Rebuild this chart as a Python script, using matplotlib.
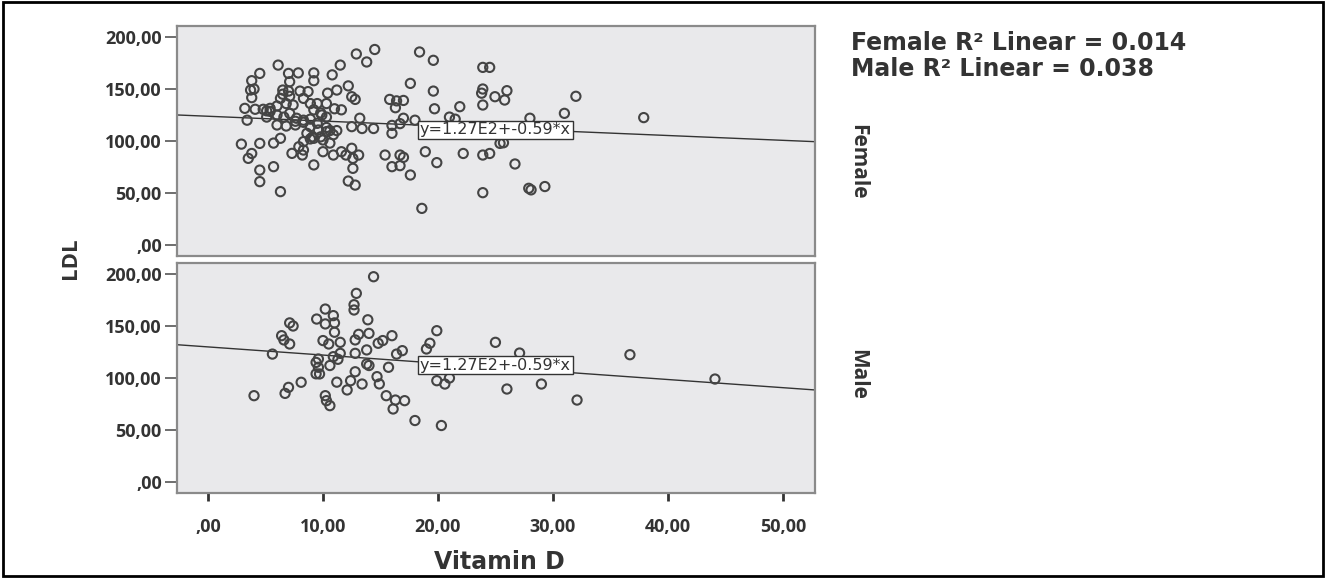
import matplotlib
matplotlib.use("Agg")
import matplotlib.pyplot as plt
from matplotlib.patches import Rectangle
import numpy as np

# ---------------- data ----------------
female_vitd = [14.5, 12.9, 13.8, 18.4, 19.6, 23.9, 11.5, 6.1, 4.5, 3.8, 7.0, 7.85, 9.2, 10.8, 9.2, 7.1,
               3.7, 4.0, 6.5, 7.0, 8.0, 8.7, 11.2, 12.2, 12.5, 12.8, 17.6, 19.6, 23.9, 15.8, 16.4, 17.0,
               16.3, 19.7, 21.9, 23.9, 3.8, 3.2, 4.1, 4.8, 5.4, 6.0, 6.8, 7.4, 6.3, 9.5, 10.3, 9.9, 11.6,
               3.4, 5.1, 6.0, 6.6, 7.1, 7.7, 8.3, 6.0, 6.8, 7.6, 8.9, 9.6, 10.3, 10.9, 13.2, 12.5, 13.4,
               14.4, 16.0, 16.7, 17.0, 18.0, 21.0, 21.5, 16.0, 8.6, 9.2, 8.3, 10.0, 10.6, 6.3, 2.9, 4.5,
               5.7, 7.9, 8.3, 7.3, 8.2, 3.8, 3.5, 10.0, 10.9, 11.6, 12.5, 12.0, 13.1, 12.6, 15.4, 16.7,
               17.0, 16.0, 16.7, 17.6, 18.9, 19.9, 22.2, 23.9, 5.7, 4.5, 4.5, 6.3, 9.2, 12.6, 12.2, 12.8,
               18.6, 23.9, 25.4, 6.5, 7.1, 8.3, 8.9, 5.4, 5.1, 9.2, 9.8, 10.3, 8.9, 9.5, 10.3, 10.6, 11.2,
               8.9, 9.8, 7.6, 8.3, 24.5, 26.0, 24.96, 25.8, 32.0, 31.0, 28.0, 37.9, 25.7, 26.7, 27.9,
               28.1, 29.3, 24.5, 23.8, 10.4, 11.0, 9.1]
female_ldl = [188, 183.7, 176, 185.6, 177.6, 170.8, 173, 173, 165, 158, 165, 165.5, 165.5, 163.6, 158, 157,
              149, 150, 149, 148, 148, 147.5, 149, 153, 142.6, 140, 155.4, 148, 150, 140, 138.6, 139,
              132, 131, 133, 134.6, 141.7, 131.4, 130.5, 130.5, 131.4, 133.7, 136, 134.6, 141, 136, 136,
              125, 130, 120, 123, 125, 123, 126.6, 121.9, 120, 115.4, 114.4, 115.4, 113.8, 110.6, 109,
              106, 121.9, 113.8, 112, 112, 115, 116.7, 121.9, 120, 123, 121, 107.4, 107.4, 102.6, 99.4,
              101, 98, 102.6, 97, 97.7, 98, 94.5, 91.3, 88.1, 86.5, 88, 83.3, 89.7, 86.5, 89.7, 93, 86.5,
              86.5, 83.3, 86.5, 86.5, 84.3, 75.3, 76.3, 67.3, 89.7, 79.2, 88, 86.5, 75.3, 72, 60.9, 51.3,
              77, 73.7, 61.5, 57.6, 35.2, 50.3, 97.7, 145, 143, 141, 136, 128.5, 129, 130, 127, 123, 121,
              117, 113, 110, 110, 102, 104, 119, 118, 170.8, 148.4, 142.6, 139.4, 143, 126.6, 121.9,
              122.5, 98.3, 77.9, 54.5, 53, 56.2, 88, 146, 146, 131, 104]

male_vitd = [14.4, 12.9, 12.7, 12.7, 13.9, 10.2, 10.9, 9.45, 10.2, 11.0, 11.0, 7.1, 7.4, 6.4, 6.6, 7.1, 5.6,
             10.0, 10.5, 11.5, 12.8, 13.1, 14.0, 13.8, 12.8, 11.5, 10.9, 9.6, 9.6, 9.7, 9.4, 10.6, 13.8,
             14.0, 14.8, 15.2, 16.0, 16.4, 16.9, 15.7, 14.7, 14.9, 19.9, 19.3, 19.0, 19.9, 20.6, 21.0,
             25.0, 8.1, 7.0, 6.7, 4.0, 10.2, 10.3, 10.6, 12.1, 12.4, 11.2, 13.4, 15.5, 16.3, 17.1, 16.1,
             18.0, 20.3, 9.4, 11.3, 12.8, 27.1, 36.7, 26.0, 29.0, 32.1, 44.1]
male_ldl = [197.4, 181.4, 170.5, 165.4, 156, 166.3, 160, 156.7, 152, 153, 144, 153, 150, 140.7, 136.6, 132.7,
            123, 136, 132.7, 134.3, 136.6, 142, 142.9, 127, 123.7, 123.7, 120.5, 118.3, 110.3, 103.9,
            115, 112, 113.5, 112, 133.4, 136, 140.7, 123, 126.3, 110.3, 101.3, 94.3, 145.5, 133.4, 127.9,
            97.4, 94.2, 100, 134.3, 95.9, 91, 85.2, 83, 83, 78.2, 73.4, 88.5, 97.4, 96, 94.2, 83, 78.8,
            78.2, 70.2, 59.1, 54.3, 104, 118, 106, 124, 122.4, 89.4, 94.2, 78.8, 99]

# fitted lines: (intercept, slope)
female_fit = (123.8, -0.463)
male_fit = (129.9, -0.784)
fit_label = "y=1.27E2+-0.59*x"
panel_names = ["Female", "Male"]
r2_text = ["Female R\u00b2 Linear = 0.014", "Male R\u00b2 Linear = 0.038"]

x_ticks = [0, 10, 20, 30, 40, 50]
x_ticklabels = [",00", "10,00", "20,00", "30,00", "40,00", "50,00"]
y_ticks = [0, 50, 100, 150, 200]
y_ticklabels = [",00", "50,00", "100,00", "150,00", "200,00"]

# ---------------- figure ----------------
W, H = 1326, 578
fig = plt.figure(figsize=(W / 100, H / 100), dpi=100)
fig.patch.set_facecolor("white")


def fx(px):
    return px / W


def fy(py):
    return 1 - py / H


ax_left, ax_right = 177, 815
panels = [(26, 256), (263, 493)]
panel_label_y = [162, 374]
axes = []
for (top, bot) in panels:
    ax = fig.add_axes([fx(ax_left), fy(bot), fx(ax_right - ax_left), (bot - top) / H])
    axes.append(ax)

font_main = "Open Sans"
font_wide = "DejaVu Sans"
tick_color = "#333333"
for i, (ax, xs, ys, fit) in enumerate(zip(axes, [female_vitd, male_vitd], [female_ldl, male_ldl],
                                         [female_fit, male_fit])):
    ax.set_facecolor("#e9e9eb")
    ax.set_xlim(-2.7, 52.8)
    ax.set_ylim(-10.6, 210.6)
    for s in ax.spines.values():
        s.set_color("#8a8a8a")
        s.set_linewidth(1.6)
    ax.scatter(xs, ys, s=44, facecolors="none", edgecolors="#444444", linewidths=1.5, zorder=3)
    xl = np.array(ax.get_xlim())
    ax.plot(xl, fit[0] + fit[1] * xl, color="#333333", lw=1.0, zorder=2)
    ax.text(25.0, 110.6 if i == 0 else 112.5, fit_label, ha="center", va="center",
            fontsize=11.5, family=font_wide, color="#333333", zorder=5,
            bbox=dict(boxstyle="square,pad=0.12", fc="white", ec="#333333", lw=1.0))
    ax.set_yticks(y_ticks)
    ax.set_yticklabels(y_ticklabels, family=font_main, fontweight="bold",
                       fontsize=13, color=tick_color)
    ax.tick_params(axis="y", direction="out", length=9, width=1.2, color="#555555", pad=2)
    ax.set_xticks(x_ticks)
    if i == 0:
        ax.tick_params(axis="x", bottom=False, labelbottom=False)
    else:
        ax.set_xticklabels(x_ticklabels, family=font_main, fontweight="bold",
                           fontsize=13, color=tick_color)
        ax.tick_params(axis="x", direction="out", length=6, width=2.0, color="#333333", pad=12)
    fig.text(fx(858), fy(panel_label_y[i]), panel_names[i], rotation=-90,
             ha="center", va="center", fontsize=15, fontweight="bold", family=font_main,
             color="#333333")

fig.text(fx(499), fy(562), "Vitamin D", ha="center", va="center", fontsize=17,
         fontweight="bold", family=font_wide, color="#333333")
fig.text(fx(71), fy(258), "LDL", ha="center", va="center", rotation=90, fontsize=16,
         fontweight="bold", family=font_main, color="#333333")
for k, t in enumerate(r2_text):
    fig.text(fx(851), fy(43 + 26 * k), t, ha="left", va="center", fontsize=17,
             fontweight="bold", family=font_wide, color="#333333")

fig.patches.append(Rectangle((0.002, 0.003), 0.996, 0.994, transform=fig.transFigure,
                             fill=False, ec="black", lw=2.0))

fig.savefig("out.png", dpi=100)
